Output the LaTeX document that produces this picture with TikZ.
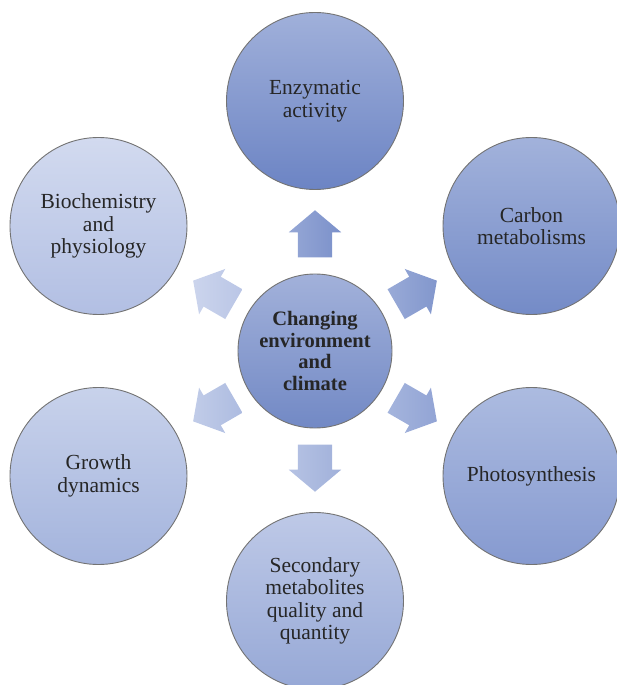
\documentclass[tikz,border=0pt]{standalone}
\usepackage{fontspec}
\setmainfont{Liberation Serif}
\usetikzlibrary{shapes.arrows,positioning,calc}

% shades, top and bottom of each disc
\definecolor{hubA}{RGB}{162,177,218}
\definecolor{hubB}{RGB}{114,137,197}
\definecolor{enzA}{RGB}{160,176,218}
\definecolor{enzB}{RGB}{108,132,196}
\definecolor{carA}{RGB}{162,178,219}
\definecolor{carB}{RGB}{116,139,199}
\definecolor{phoA}{RGB}{172,187,224}
\definecolor{phoB}{RGB}{134,154,208}
\definecolor{secA}{RGB}{190,201,231}
\definecolor{secB}{RGB}{150,168,214}
\definecolor{groA}{RGB}{200,210,235}
\definecolor{groB}{RGB}{164,180,221}
\definecolor{bioA}{RGB}{210,218,239}
\definecolor{bioB}{RGB}{178,191,227}

\tikzset{%
  topic/.style={circle, draw=black!55, line width=0.9pt, minimum size=177pt, inner sep=0pt, align=center, text=black!85, font=\fontsize{21.5}{22.5}\selectfont},
  hub/.style={topic, minimum size=154pt, font=\bfseries\fontsize{20.5}{21.5}\selectfont},
  push/.style={single arrow, draw=none, minimum height=47pt, inner xsep=0pt, inner ysep=17pt, single arrow head extend=9pt, single arrow tip angle=100},
}

\begin{document}
\begin{tikzpicture}
  \useasboundingbox (-315pt,-334pt) rectangle (301pt,351pt);

  \node [hub, top color=hubA, bottom color=hubB] (hub) at (0,0) {Changing\\environment\\and\\climate};

  \node [topic, top color=enzA, bottom color=enzB] (enz) at (90:250pt) {Enzymatic\\activity};
  \node [topic, top color=carA, bottom color=carB] (car) at (30:250pt) {Carbon\\metabolisms};
  \node [topic, top color=phoA, bottom color=phoB] (pho) at (-30:250pt) {Photosynthesis};
  \node [topic, top color=secA, bottom color=secB] (sec) at (-90:250pt) {Secondary\\metabolites\\quality and\\quantity};
  \node [topic, top color=groA, bottom color=groB] (gro) at (210:250pt) {Growth\\dynamics};
  \node [topic, top color=bioA, bottom color=bioB] (bio) at (150:250pt) {Biochemistry\\and\\physiology};

  % block arrows, hub to each disc
  \node [push, rotate=90, left color=enzA!80!enzB, right color=enzB!90!white] (to-enz) at ($(hub)!110pt!(enz)$) {};
  \node [push, rotate=30, left color=carA!80!carB, right color=carB!90!white] (to-car) at ($(hub)!110pt!(car)$) {};
  \node [push, rotate=-30, left color=phoA!80!phoB, right color=phoB!90!white] (to-pho) at ($(hub)!110pt!(pho)$) {};
  \node [push, rotate=-90, left color=secA!80!secB, right color=secB!90!white] (to-sec) at ($(hub)!110pt!(sec)$) {};
  \node [push, rotate=210, left color=groA!80!groB, right color=groB!90!white] (to-gro) at ($(hub)!110pt!(gro)$) {};
  \node [push, rotate=150, left color=bioA!80!bioB, right color=bioB!90!white] (to-bio) at ($(hub)!110pt!(bio)$) {};
\end{tikzpicture}
\end{document}
